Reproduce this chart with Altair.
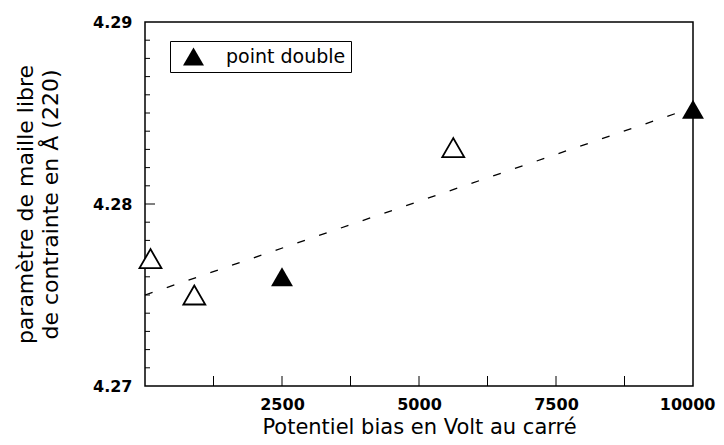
import altair as alt
import pandas as pd

# ---- data ----
hollow_x = [100, 900, 5625]
hollow_y = [4.2770, 4.2750, 4.2831]
double_x = [2500, 10000]
double_y = [4.2760, 4.2852]
double_kind = ["point double", "point double"]
fit_x = [0, 10000]
fit_y = [4.2750, 4.2853]

x_label_values = [2500, 5000, 7500, 10000]
y_label_values = [4.27, 4.28, 4.29]
x_tick_values = [1250, 2500, 3750, 5000, 6250, 7500, 8750]
y_minor_ticks = [4.271, 4.272, 4.273, 4.274, 4.275, 4.276, 4.277, 4.278, 4.279,
                 4.281, 4.282, 4.283, 4.284, 4.285, 4.286, 4.287, 4.288, 4.289]
y_major_ticks = [4.28]

x_title = "Potentiel bias en Volt au carré"
y_title = ["paramètre de maille libre", "de contrainte en Å (220)"]
legend_label = "point double"

W, H = 548, 364
FONT = "DejaVu Sans"

df_hollow = pd.DataFrame({"x": hollow_x, "y": hollow_y})
df_double = pd.DataFrame({"x": double_x, "y": double_y, "kind": double_kind})
df_fit = pd.DataFrame({"x": fit_x, "y": fit_y})
df_xt = pd.DataFrame({"x": x_tick_values})
df_ytm = pd.DataFrame({"y": y_minor_ticks})
df_ytM = pd.DataFrame({"y": y_major_ticks})

x_scale = alt.Scale(domain=[0, 10000], nice=False, zero=False)
y_scale = alt.Scale(domain=[4.27, 4.29], nice=False, zero=False)

x_axis = alt.Axis(
    values=x_label_values, format="d", tickSize=0, domain=False, grid=False,
    labelFont=FONT, labelFontWeight="bold", labelFontSize=16, labelColor="black",
    labelPadding=10, labelFlush=True, labelFlushOffset=22, labelOverlap=False,
    title=x_title, titleFont=FONT, titleFontSize=21, titleFontWeight="normal",
    titleColor="black", titleBaseline="alphabetic", titleY=47,
)
y_axis = alt.Axis(
    values=y_label_values, format=".2f", tickSize=0, domain=False, grid=False,
    labelFont=FONT, labelFontWeight="bold", labelFontSize=16, labelColor="black",
    labelPadding=13, labelOverlap=False,
    title=y_title, titleFont=FONT, titleFontSize=22, titleFontWeight="normal",
    titleColor="black", titleAngle=270, titleAlign="center", titleBaseline="middle",
    titleX=-120, titleY=182, titleLineHeight=25,
)

X = alt.X("x:Q", scale=x_scale, axis=x_axis)
Y = alt.Y("y:Q", scale=y_scale, axis=y_axis)

fit = alt.Chart(df_fit).mark_line(color="black", strokeDash=[8, 15], strokeWidth=1.3).encode(x=X, y=Y)

xt = alt.Chart(df_xt).mark_rule(color="black", strokeWidth=1).encode(
    x=X, y=alt.value(H), y2=alt.value(H - 10))
ytm = alt.Chart(df_ytm).mark_rule(color="black", strokeWidth=1).encode(
    y=Y, x=alt.value(0), x2=alt.value(5))
ytM = alt.Chart(df_ytM).mark_rule(color="black", strokeWidth=1).encode(
    y=Y, x=alt.value(0), x2=alt.value(10))

hollow = alt.Chart(df_hollow).mark_point(
    shape="triangle-up", size=480, filled=True, fill="white", stroke="black",
    strokeWidth=1.8, opacity=1).encode(x=X, y=Y)

double = alt.Chart(df_double).mark_point(
    shape="triangle-up", size=480, filled=True, opacity=1).encode(
    x=X, y=Y,
    color=alt.Color("kind:N",
                    scale=alt.Scale(domain=[legend_label], range=["black"]),
                    legend=alt.Legend(
                        orient="none", legendX=25, legendY=19, title=None,
                        strokeColor="black", fillColor="white", padding=5,
                        symbolType="triangle-up", symbolSize=440, symbolStrokeWidth=0,
                        symbolOffset=8, labelOffset=22,
                        labelFont=FONT, labelFontSize=19, labelColor="black")),
)

chart = alt.layer(fit, xt, ytm, ytM, hollow, double).properties(
    width=W, height=H,
    autosize=alt.AutoSizeParams(type="none"),
    padding={"left": 137, "top": 14, "right": 23, "bottom": 51},
    background="white",
).configure_view(stroke="black", strokeWidth=1.5)

chart.save("out.html", embed_options={"renderer": "svg", "actions": False})
